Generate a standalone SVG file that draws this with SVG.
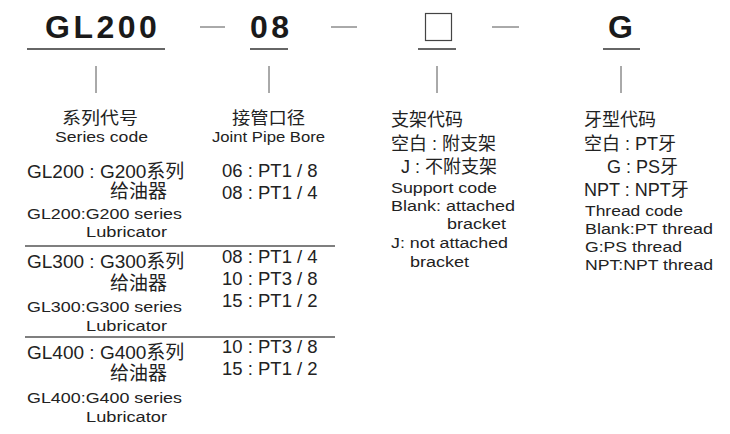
<svg xmlns="http://www.w3.org/2000/svg" width="730" height="434" viewBox="0 0 730 434">
<style>
text{font-family:"Liberation Sans","Noto Sans CJK SC",sans-serif;fill:#222}
.h{font-size:32px;font-weight:bold;letter-spacing:3.5px;fill:#1a1a1a}
.m{font-size:19px}
.v{font-size:18.5px}
.s{font-size:15.5px}
.t{font-size:18px}
.hd{font-size:16.5px}
.c{text-anchor:middle}
.ul{stroke:#333;stroke-width:1.6}
.tk{stroke:#555;stroke-width:1}
.sep{stroke:#555;stroke-width:1.5}
</style>
<rect width="730" height="434" fill="#fff"/>
<g id="connectors">
<line class="ul" x1="27" y1="49" x2="165" y2="49"/>
<line class="ul" x1="250" y1="49" x2="288" y2="49"/>
<line class="ul" x1="418" y1="49" x2="456" y2="49"/>
<line class="ul" x1="603" y1="49" x2="640" y2="49"/>
<line class="tk" x1="200" y1="27" x2="225" y2="27"/>
<line class="tk" x1="331" y1="27" x2="357" y2="27"/>
<line class="tk" x1="492" y1="27" x2="519" y2="27"/>
<line class="tk" x1="96" y1="66" x2="96" y2="93"/>
<line class="tk" x1="269" y1="66" x2="269" y2="93"/>
<line class="tk" x1="437" y1="66" x2="437" y2="93"/>
<line class="tk" x1="621" y1="66" x2="621" y2="93"/>
<line class="sep" x1="25" y1="246" x2="335" y2="246"/>
<line class="sep" x1="25" y1="337" x2="335" y2="337"/>
</g>
<g id="code-series">
<text class="h" x="45" y="38">GL200</text>
</g>
<g id="code-bore">
<text class="h" x="250" y="38">08</text>
</g>
<g id="code-support">
<rect x="425.5" y="13.5" width="26" height="27" fill="none" stroke="#444" stroke-width="1.2"/>
</g>
<g id="code-thread">
<text class="h" x="608" y="38">G</text>
</g>
<g id="series-col">
<text class="hd" x="62" y="124" textLength="76" lengthAdjust="spacingAndGlyphs">系列代号</text>
<text class="s" x="55" y="142" textLength="93" lengthAdjust="spacingAndGlyphs">Series code</text>
<text class="m" x="27" y="178">GL200 : G200系列</text>
<text class="m" x="110" y="198">给油器</text>
<text class="s" x="27" y="219" textLength="155" lengthAdjust="spacingAndGlyphs">GL200:G200 series</text>
<text class="s" x="86" y="237" textLength="81" lengthAdjust="spacingAndGlyphs">Lubricator</text>
<text class="m" x="27" y="268">GL300 : G300系列</text>
<text class="m" x="110" y="290">给油器</text>
<text class="s" x="27" y="312" textLength="155" lengthAdjust="spacingAndGlyphs">GL300:G300 series</text>
<text class="s" x="86" y="331" textLength="81" lengthAdjust="spacingAndGlyphs">Lubricator</text>
<text class="m" x="27" y="359">GL400 : G400系列</text>
<text class="m" x="110" y="380">给油器</text>
<text class="s" x="27" y="403" textLength="155" lengthAdjust="spacingAndGlyphs">GL400:G400 series</text>
<text class="s" x="86" y="422" textLength="81" lengthAdjust="spacingAndGlyphs">Lubricator</text>
</g>
<g id="bore-col">
<text class="hd" x="232" y="124" textLength="73" lengthAdjust="spacingAndGlyphs">接管口径</text>
<text class="s" x="212" y="142" textLength="113" lengthAdjust="spacingAndGlyphs">Joint Pipe Bore</text>
<text class="v" x="222" y="177">06 : PT1 / 8</text>
<text class="v" x="222" y="199">08 : PT1 / 4</text>
<text class="v" x="222" y="263">08 : PT1 / 4</text>
<text class="v" x="222" y="285">10 : PT3 / 8</text>
<text class="v" x="222" y="307">15 : PT1 / 2</text>
<text class="v" x="222" y="353">10 : PT3 / 8</text>
<text class="v" x="222" y="375">15 : PT1 / 2</text>
</g>
<g id="support-col">
<text class="t" x="391" y="126">支架代码</text>
<text class="t" x="391" y="150">空白 : 附支架</text>
<text class="t" x="401" y="173">J : 不附支架</text>
<text class="s" x="391" y="193" textLength="106" lengthAdjust="spacingAndGlyphs">Support code</text>
<text class="s" x="391" y="211" textLength="124" lengthAdjust="spacingAndGlyphs">Blank: attached</text>
<text class="s" x="447" y="229" textLength="59" lengthAdjust="spacingAndGlyphs">bracket</text>
<text class="s" x="391" y="248" textLength="117" lengthAdjust="spacingAndGlyphs">J: not attached</text>
<text class="s" x="410" y="267" textLength="59" lengthAdjust="spacingAndGlyphs">bracket</text>
</g>
<g id="thread-col">
<text class="t" x="584" y="126">牙型代码</text>
<text class="t" x="584" y="150">空白 : PT牙</text>
<text class="t" x="607" y="173">G : PS牙</text>
<text class="t" x="584" y="196">NPT : NPT牙</text>
<text class="s" x="585" y="216" textLength="98" lengthAdjust="spacingAndGlyphs">Thread code</text>
<text class="s" x="585" y="234" textLength="128" lengthAdjust="spacingAndGlyphs">Blank:PT thread</text>
<text class="s" x="585" y="252" textLength="97" lengthAdjust="spacingAndGlyphs">G:PS thread</text>
<text class="s" x="585" y="270" textLength="128" lengthAdjust="spacingAndGlyphs">NPT:NPT thread</text>
</g>
</svg>
